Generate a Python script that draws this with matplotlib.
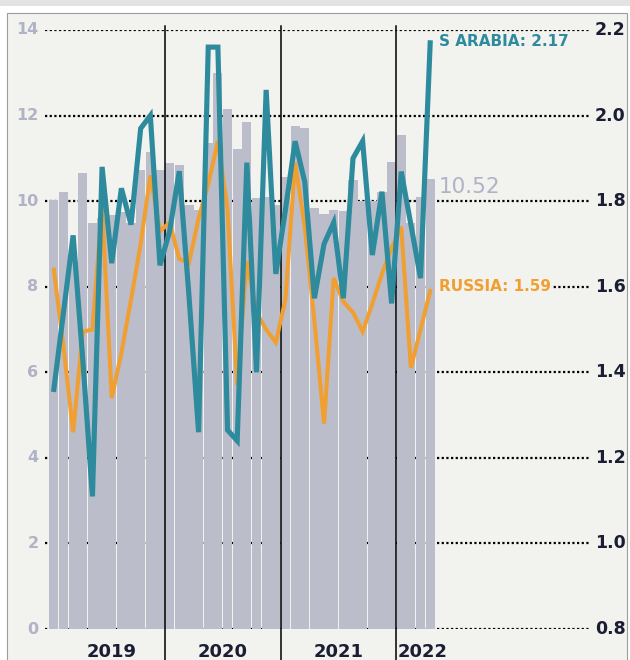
import matplotlib
matplotlib.use("Agg")
import matplotlib.pyplot as plt
import matplotlib.patches as patches
import numpy as np

# ---------------- data ----------------
years = ["2019", "2020", "2021", "2022"]
months_per_year = [12, 12, 12, 4]

# grey bars (left axis)
bar_values = [
    10.03, 10.22, 8.6, 10.65, 9.5, 9.6, 9.68, 9.75, 9.5, 10.73, 11.16, 10.73,
    10.89, 10.85, 9.9, 9.8, 11.35, 12.99, 12.15, 11.23, 11.85, 10.08, 10.1, 9.9,
    10.57, 11.76, 11.72, 9.85, 9.69, 9.79, 9.76, 10.5, 10.0, 10.0, 10.22, 10.92,
    11.55, 9.5, 10.1, 10.52,
]

# right axis series
s_arabia = [
    1.36, 1.54, 1.72, 1.43, 1.11, 1.88, 1.655, 1.83, 1.745, 1.97, 2.00, 1.65,
    1.73, 1.87, 1.58, 1.26, 2.16, 2.16, 1.265, 1.24, 1.89, 1.40, 2.06, 1.63,
    1.78, 1.94, 1.845, 1.573, 1.70, 1.75, 1.573, 1.90, 1.94, 1.674, 1.822, 1.561,
    1.869, 1.745, 1.62, 2.17,
]
russia = [
    1.64, 1.46, 1.26, 1.495, 1.50, 1.79, 1.34, 1.445, 1.57, 1.70, 1.86, 1.73,
    1.75, 1.665, 1.655, 1.76, 1.84, 1.94, 1.78, 1.37, 1.66, 1.54, 1.50, 1.47,
    1.57, 1.89, 1.74, 1.52, 1.28, 1.62, 1.565, 1.54, 1.495, 1.56, 1.63, 1.69,
    1.74, 1.41, 1.50, 1.59,
]

left_ticks = [0, 2, 4, 6, 8, 10, 12, 14]
right_ticks = [0.8, 1.0, 1.2, 1.4, 1.6, 1.8, 2.0, 2.2]
right_tick_labels = ["0.8", "1.0", "1.2", "1.4", "1.6", "1.8", "2.0", "2.2"]

sa_label = "S ARABIA: 2.17"
ru_label = "RUSSIA: 1.59"
bar_label = "10.52"

# ---------------- style ----------------
BG = "#f2f2ef"
BAR = "#bbbdca"
TEAL = "#2e8a9d"
ORANGE = "#f09f30"
LIGHT = "#b0b3c6"
DARK = "#1b1e33"

W, H = 630, 660
fig = plt.figure(figsize=(W / 100, H / 100), dpi=100)
fig.patch.set_facecolor("white")

# frame + top band
fig.patches.append(patches.Rectangle((7 / W, -0.01), (627 - 7) / W, (H - 13) / H + 0.01,
                                     transform=fig.transFigure, facecolor=BG,
                                     edgecolor="#9c9c9c", lw=0.8, zorder=-10))
fig.patches.append(patches.Rectangle((0, 1 - 6 / H), 1, 6 / H, transform=fig.transFigure,
                                     facecolor="#e3e3e3", edgecolor="none", zorder=-10))

ax = fig.add_axes([45 / W, 1 - 629 / H, 545 / W, 599 / H])
ax.set_facecolor("none")
n = len(bar_values)
x = np.arange(n)
ax.set_xlim(-0.915, 55.56)
ax.set_ylim(0, 14)

dot = (0, (1.0, 1.1))
for yv in left_ticks:
    ax.axhline(yv, color="black", lw=1.6, ls=dot, zorder=1)

ax.bar(x, bar_values, width=0.95, color=BAR, edgecolor="none", zorder=2)

# year separators
bounds = np.cumsum(months_per_year)[:-1] - 0.5
for b in bounds:
    ax.axvline(b, ymin=-0.06, ymax=1.006, color="black", lw=1.1, zorder=3, clip_on=False)

for s in ax.spines.values():
    s.set_visible(False)
ax.set_xticks([])
ax.set_yticks([])

# left tick labels
ytr = ax.get_yaxis_transform()
for yv in left_ticks:
    ax.text(-0.012, yv, str(yv), transform=ytr, ha="right", va="center",
            fontsize=11.5, fontweight="bold", color=LIGHT)

# year labels
xtr = ax.get_xaxis_transform()
starts = np.concatenate([[0], np.cumsum(months_per_year)[:-1]])
for i, (yr, st, m) in enumerate(zip(years, starts, months_per_year)):
    if i == 0:
        ax.text(st + m / 2, -0.038, yr, transform=xtr, ha="center", va="center",
                fontsize=13, fontweight="bold", color=DARK)
    elif i < len(years) - 1:
        ax.text(st + m / 2 - 0.5, -0.038, yr, transform=xtr, ha="center", va="center",
                fontsize=13, fontweight="bold", color=DARK)
    else:
        ax.text(st - 0.35, -0.038, yr, transform=xtr, ha="left", va="center",
                fontsize=13, fontweight="bold", color=DARK)

ax.text(39.9, 10.34, bar_label, ha="left", va="center", fontsize=15.5,
        color=LIGHT, zorder=5)

# right axis lines
ax2 = ax.twinx()
ax2.set_ylim(0.8, 2.2)
ax2.set_xlim(ax.get_xlim())
for s in ax2.spines.values():
    s.set_visible(False)
ax2.set_yticks([])
ax2.plot(x, russia, color=ORANGE, lw=2.9, zorder=3, solid_joinstyle="miter")
ax2.plot(x, s_arabia, color=TEAL, lw=3.7, zorder=4, solid_joinstyle="miter")

ytr2 = ax2.get_yaxis_transform()
for yv, lab in zip(right_ticks, right_tick_labels):
    ax2.text(1.009, yv, lab, transform=ytr2, ha="left", va="center",
             fontsize=12.5, fontweight="bold", color=DARK)

ax2.text(39.9, 2.172, sa_label, ha="left", va="center", fontsize=11,
         fontweight="bold", color=TEAL, zorder=6)
ax2.text(39.9, 1.60, ru_label, ha="left", va="center", fontsize=11,
         fontweight="bold", color=ORANGE, zorder=6,
         bbox=dict(facecolor=BG, edgecolor="none", pad=1.5))

fig.savefig("out.png", dpi=100, facecolor=fig.get_facecolor())
